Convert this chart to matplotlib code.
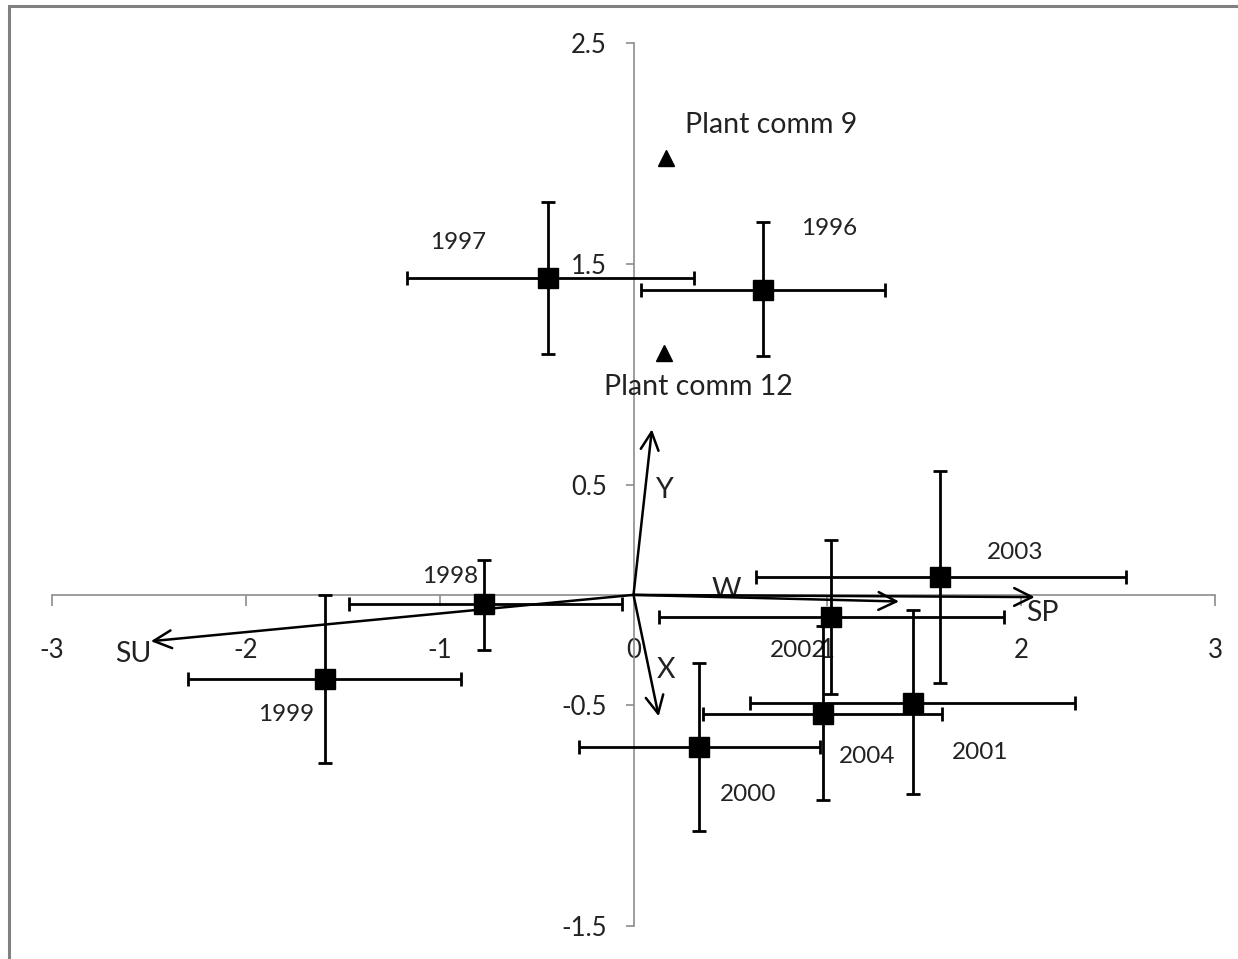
import matplotlib
matplotlib.use('Agg')
import matplotlib.pyplot as plt
from matplotlib.patches import Rectangle

plt.rcParams['font.family'] = ['Lato', 'DejaVu Sans']

# Yearly site scores with error bar extents
years = ['1996', '1997', '1998', '1999', '2000', '2001', '2002', '2003', '2004']
x_mid = [0.67, -0.44, -0.77, -1.59, 0.34, 1.44, 1.02, 1.58, 0.98]
y_mid = [1.38, 1.435, -0.04, -0.38, -0.69, -0.49, -0.10, 0.08, -0.54]
x_lo = [0.04, -1.17, -1.47, -2.30, -0.28, 0.60, 0.13, 0.63, 0.36]
x_hi = [1.30, 0.31, -0.06, -0.89, 0.96, 2.28, 1.91, 2.54, 1.59]
y_lo = [1.08, 1.09, -0.25, -0.76, -1.07, -0.90, -0.45, -0.40, -0.93]
y_hi = [1.69, 1.78, 0.16, 0.00, -0.31, -0.07, 0.25, 0.56, -0.14]

# label positions for the years
year_lx = [1.008, -0.906, -0.947, -1.793, 0.591, 1.788, 0.849, 1.968, 1.204]
year_ly = [1.661, 1.594, 0.081, -0.544, -0.906, -0.715, -0.250, 0.194, -0.734]

# plant communities
comm_names = ['Plant comm 9', 'Plant comm 12']
comm_x = [0.17, 0.155]
comm_y = [1.98, 1.095]
comm_lx = [0.266, -0.152]
comm_ly = [2.13, 0.94]

# environmental vectors
vec_names = ['SU', 'SP', 'W', 'Y', 'X']
vec_x = [-2.49, 2.07, 1.37, 0.095, 0.13]
vec_y = [-0.21, -0.01, -0.03, 0.75, -0.55]
vec_lx = [-2.58, 2.11, 0.48, 0.16, 0.17]
vec_ly = [-0.27, -0.08, 0.02, 0.475, -0.34]

x_ticks = [-3, -2, -1, 0, 1, 2, 3]
y_ticks = [-1.5, -0.5, 0.5, 1.5, 2.5]

W, H = 1238, 959
fig = plt.figure(figsize=(W / 100, H / 100), dpi=100)
ax = fig.add_axes([52 / W, 1 - 926 / H, (1215 - 52) / W, (926 - 43) / H])
ax.set_xlim(-3, 3)
ax.set_ylim(-1.5, 2.5)

# axes through the origin, Excel style
for s in ['top', 'right']:
    ax.spines[s].set_visible(False)
ax.spines['left'].set_position('zero')
ax.spines['bottom'].set_position('zero')
for s in ['left', 'bottom']:
    ax.spines[s].set_color('#8c8c8c')
    ax.spines[s].set_linewidth(1.2)
ax.set_xticks(x_ticks)
ax.set_xticklabels([str(t) for t in x_ticks])
ax.set_yticks(y_ticks)
ax.set_yticklabels([str(t) for t in y_ticks])
ax.tick_params(axis='x', direction='out', length=8, width=1.2, color='#8c8c8c',
               pad=23, labelsize=18.5, labelcolor='#222222')
ax.tick_params(axis='y', direction='out', length=6, width=1.2, color='#8c8c8c',
               pad=13, labelsize=18.5, labelcolor='#222222')

# error bars + squares
xerr = [[m - lo for m, lo in zip(x_mid, x_lo)], [hi - m for m, hi in zip(x_mid, x_hi)]]
yerr = [[m - lo for m, lo in zip(y_mid, y_lo)], [hi - m for m, hi in zip(y_mid, y_hi)]]
ax.errorbar(x_mid, y_mid, xerr=xerr, yerr=yerr, fmt='s', color='black', ms=14,
            elinewidth=2, capsize=5, capthick=2, zorder=4)

for name, lx, ly in zip(years, year_lx, year_ly):
    ax.text(lx, ly, name, fontsize=17.5, ha='center', va='center', color='#222222')

# plant communities
ax.plot(comm_x, comm_y, '^', color='black', ms=11, zorder=4)
for name, lx, ly in zip(comm_names, comm_lx, comm_ly):
    ax.text(lx, ly, name, fontsize=20.5, ha='left', va='center', color='#222222')

# vectors
for name, vx, vy, lx, ly in zip(vec_names, vec_x, vec_y, vec_lx, vec_ly):
    ax.annotate('', xy=(vx, vy), xytext=(0, 0),
                arrowprops=dict(arrowstyle='->', lw=1.8, color='black',
                                mutation_scale=32, shrinkA=0, shrinkB=0), zorder=5)
    ax.text(lx, ly, name, fontsize=20.5, ha='center', va='center', color='#222222')

# grey chart frame
fig.add_artist(Rectangle((9 / W, -0.1), 2, 1.1 - 6 / H, transform=fig.transFigure,
                         fill=False, edgecolor='#808080', lw=2.2))

fig.savefig('out.png', dpi=100)
